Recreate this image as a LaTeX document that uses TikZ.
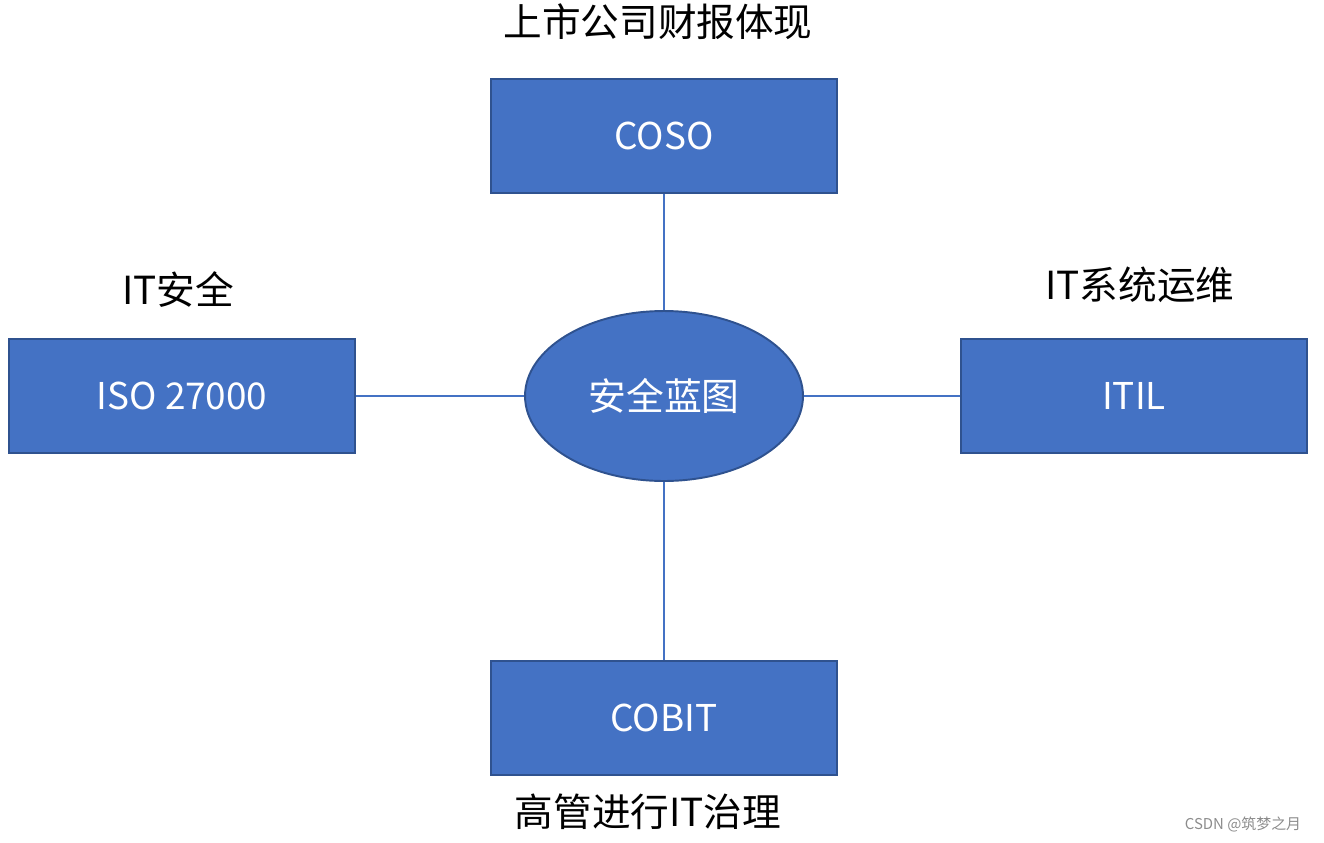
\documentclass[tikz,border=0pt]{standalone}
\usepackage{fontspec}
\setmainfont{Noto Sans CJK SC}
\usepackage{tikz}
\usetikzlibrary{shapes.geometric}
\definecolor{boxblue}{HTML}{4472C4}
\definecolor{edgeblue}{HTML}{2F528F}

\begin{document}
\begin{tikzpicture}[x=0.02cm,y=-0.02cm,
  frame/.style={draw=edgeblue,fill=boxblue,line width=1.1pt,text=white,
    minimum width=6.92cm,minimum height=2.28cm,font=\fontsize{21}{25}\selectfont},
  hub/.style={ellipse,draw=edgeblue,fill=boxblue,line width=1.1pt,text=white,
    minimum width=5.56cm,minimum height=3.4cm,inner sep=0pt,font=\fontsize{21.5}{25}\selectfont},
  caption/.style={font=\fontsize{22}{26}\selectfont,inner sep=0pt},
  link/.style={draw=boxblue,line width=1.1pt}]
  \useasboundingbox (0,0) rectangle (1324,842);
  % centre and the four frameworks
  \node[hub] (blueprint) at (664,396) {安全蓝图};
  \node[frame] (coso) at (664,136) {COSO};
  \node[frame] (iso) at (182,396) {ISO 27000};
  \node[frame] (itil) at (1134,396) {ITIL};
  \node[frame] (cobit) at (664,718) {COBIT};
  % captions
  \node[caption] (cosocap) at (658,22) {上市公司财报体现};
  \node[caption] (isocap) at (178,290) {IT安全};
  \node[caption] (itilcap) at (1140,285) {IT系统运维};
  \node[caption] (cobitcap) at (648,812) {高管进行IT治理};
  \node[text=black!45,font=\fontsize{8.5}{10}\selectfont,inner sep=0pt] (mark) at (1243,824) {CSDN @筑梦之月};
  % links
  \path[link] (blueprint) -- (coso);
  \path[link] (blueprint) -- (iso);
  \path[link] (blueprint) -- (itil);
  \path[link] (blueprint) -- (cobit);
\end{tikzpicture}
\end{document}
